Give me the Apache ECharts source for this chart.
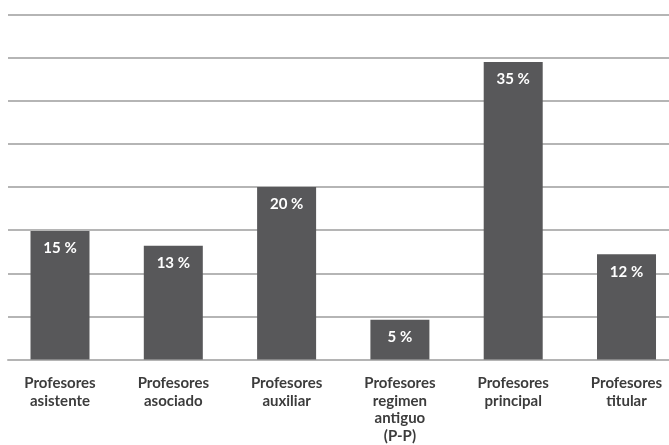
<!DOCTYPE html>
<html>
<head>
<meta charset="utf-8">
<script src="https://cdn.jsdelivr.net/npm/echarts@6/dist/echarts.min.js"></script>
<style>
html,body{margin:0;padding:0;background:#fff;}
#c{width:669px;height:445px;}
</style>
</head>
<body>
<div id="c"></div>
<script>
const categories = ["Profesores\nasistente", "Profesores\nasociado", "Profesores\nauxiliar", "Profesores\nregimen\nantiguo\n(P-P)", "Profesores\nprincipal", "Profesores\ntitular"];
const values = [14.9, 13.2, 20.0, 4.6, 34.5, 12.2];
const valueLabels = ["15 %", "13 %", "20 %", "5 %", "35 %", "12 %"];
const yTicks = [0, 5, 10, 15, 20, 25, 30, 35, 40];

const positions = categories.map((c, i) => i);
const seriesData = values.map((v, i) => [positions[i], v]);

const chart = echarts.init(document.getElementById('c'), null, {renderer: 'canvas'});
chart.setOption({
  animation: false,
  backgroundColor: '#ffffff',
  grid: {left: 8, right: 0, top: 14.5, bottom: 85.5},
  xAxis: {
    type: 'value', min: -0.459, max: 5.375,
    axisLine: {show: true, lineStyle: {color: '#b4b4b4', width: 2}},
    axisTick: {show: false},
    splitLine: {show: false},
    axisLabel: {
      customValues: positions,
      formatter: v => categories[Math.round(v)] || '',
      margin: 15, fontFamily: 'Lato', fontWeight: 'bold',
      fontSize: 15, lineHeight: 17.5, color: '#3c3c3c', align: 'center'
    }
  },
  yAxis: {
    type: 'value', min: yTicks[0], max: yTicks[yTicks.length - 1], interval: 5,
    axisLine: {show: false}, axisTick: {show: false}, axisLabel: {show: false},
    splitLine: {show: true, lineStyle: {color: '#9c9c9c', width: 1.5}}
  },
  series: [{
    type: 'bar',
    data: seriesData,
    barWidth: 59,
    itemStyle: {color: '#58585a'},
    label: {
      show: true, position: 'insideTop', distance: 10,
      color: '#ffffff', fontFamily: 'Lato', fontWeight: 'bold', fontSize: 15,
      formatter: p => valueLabels[p.dataIndex]
    }
  }]
});
</script>
</body>
</html>
